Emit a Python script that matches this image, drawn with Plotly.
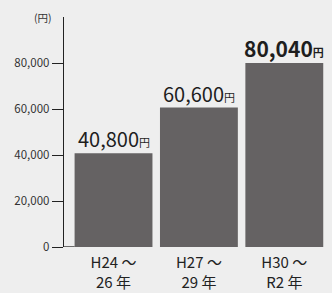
import plotly.graph_objects as go

categories = ["H24 ～<br>26 年", "H27 ～<br>29 年", "H30 ～<br>R2 年"]
values = [40800, 60600, 80040]
value_labels = ["40,800", "60,600", "80,040"]
bold_flags = [False, False, True]
y_ticks = [0, 20000, 40000, 60000, 80000]
y_tick_labels = ["0", "20,000", "40,000", "60,000", "80,000"]
unit = "円"

FONT = "Noto Sans CJK JP"

fig = go.Figure(
    go.Bar(
        x=categories,
        y=values,
        marker=dict(color="#656263", line=dict(width=0)),
        hoverinfo="skip",
    )
)

for cat, val, lab, b in zip(categories, values, value_labels, bold_flags):
    core = f"<b>{lab}</b>" if b else lab
    suffix = f"<b>{unit}</b>" if b else unit
    fig.add_annotation(
        x=cat, y=val, xref="x", yref="y",
        text=f"{core}<span style='font-size:11px'>{suffix}</span>",
        showarrow=False,
        xanchor="center", yanchor="bottom",
        yshift=-2,
        font=dict(family=FONT, size=21 if b else 20, color="#1e1e1e"),
    )

fig.update_layout(
    width=332,
    height=293,
    margin=dict(l=64, r=5, t=17, b=46, autoexpand=False),
    paper_bgcolor="#eeeeee",
    plot_bgcolor="rgba(0,0,0,0)",
    bargap=0.088,
    showlegend=False,
    font=dict(family=FONT, color="#333333"),
)

fig.update_xaxes(
    range=[-0.58, 2.5],
    showline=False,
    showgrid=False,
    zeroline=False,
    ticks="",
    automargin=False,
    ticklabelstandoff=5,
    tickfont=dict(family=FONT, size=15, color="#222222"),
    fixedrange=True,
)

fig.update_yaxes(
    range=[0, 100000],
    tickvals=y_ticks,
    ticktext=y_tick_labels,
    showline=True,
    linecolor="#222222",
    linewidth=1.3,
    ticks="outside",
    ticklen=11,
    tickwidth=1,
    tickcolor="#222222",
    showgrid=False,
    zeroline=False,
    automargin=False,
    tickfont=dict(family=FONT, size=11.5, color="#333333"),
    fixedrange=True,
)

# short baseline segment from axis to first bar
fig.add_shape(
    type="line",
    xref="x", yref="y",
    x0=-0.58, x1=-0.456, y0=0, y1=0,
    line=dict(color="#222222", width=1.3),
)

fig.add_annotation(
    text="(円)",
    xref="paper", yref="paper",
    x=0, y=1,
    xanchor="right", yanchor="middle",
    xshift=-10,
    showarrow=False,
    font=dict(family=FONT, size=10.5, color="#333333"),
)

fig.write_html(
    "out.html",
    config={"displayModeBar": False, "staticPlot": True},
    post_script="document.body.style.margin='0';document.body.style.overflow='hidden';",
)
